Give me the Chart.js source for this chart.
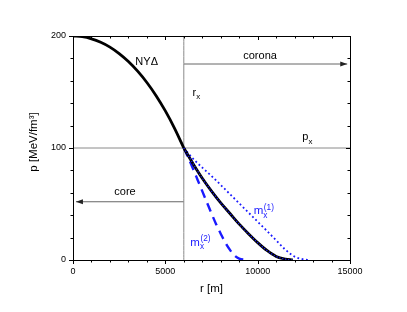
<!DOCTYPE html>
<html>
<head>
<meta charset="utf-8">
<script src="https://cdn.jsdelivr.net/npm/chart.js@4.4.1/dist/chart.umd.min.js"></script>
<style>
  body { margin: 0; background: #fff; }
  canvas { display: block; }
</style>
</head>
<body>
<canvas id="chart" width="407" height="312"></canvas>
<script>
// NYΔ core profile, r in m, p in MeV/fm^3
let core_r = [0, 500, 1000, 1500, 2000, 2500, 3000, 3500, 4000, 4500, 5000, 5500, 6000];
let core_p = [200, 199.4, 197.5, 194.4, 190.1, 184.3, 177.2, 168.6, 158.5, 146.7, 133.1, 117.6, 100];

// corona continuation (black, with blue dots on top)
let corona_r = [6000, 6500, 7000, 7500, 8000, 8500, 9000, 9500, 10000, 10500, 11000, 11500, 11900];
let corona_p = [100, 86, 73, 61.5, 51, 41.5, 32, 23.5, 15.5, 8.5, 3.2, 0.8, 0];

// m_x^(1), blue dotted
let m1_r = [6000, 6500, 7000, 7500, 8000, 8500, 9000, 9500, 10000, 10500, 11000, 11500, 12000, 12500, 12800];
let m1_p = [100, 90.5, 82.5, 75, 67, 58.8, 50.6, 42.4, 34.2, 26, 17.6, 9.2, 3, 0.5, 0];

// m_x^(2), blue dashed
let m2_r = [6000, 6250, 6500, 6750, 7000, 7250, 7500, 7750, 8000, 8250, 8500, 8750, 9000, 9250, 9500];
let m2_p = [100, 91, 81.5, 71.5, 61.5, 51.5, 41.5, 32, 23.5, 15.5, 9, 4, 1.2, 0.3, 0];

// r_x / p_x markers and the core / corona arrows
let rx = 6000;
let px = 100;
let arrow_corona_r = [6000, 14850];
let arrow_corona_p = [175, 175];
let arrow_core_r = [6000, 160];
let arrow_core_p = [52, 52];

let x_ticks = [0, 5000, 10000, 15000];
let y_ticks = [0, 100, 200];

const FONT = "'Liberation Sans', Arial, sans-serif";
const BLUE = '#1a1aff';

function pts(xs, ys) {
    return xs.map((x, i) => ({x: x, y: ys[i]}));
}

let datasets = [
    {
        // blue dots over the black corona curve
        data: pts(corona_r, corona_p),
        borderColor: BLUE,
        borderWidth: 1.3,
        borderDash: [1.2, 1.8],
        order: 0
    },
    {
        data: pts(core_r, core_p),
        borderColor: '#000',
        borderWidth: 2.8,
        order: 1
    },
    {
        data: pts(corona_r, corona_p),
        borderColor: '#000',
        borderWidth: 2.8,
        order: 1
    },
    {
        data: pts(m1_r, m1_p),
        borderColor: BLUE,
        borderWidth: 1.8,
        borderDash: [1.8, 2.6],
        order: 1
    },
    {
        data: pts(m2_r, m2_p),
        borderColor: BLUE,
        borderWidth: 2.4,
        borderDash: [9, 6],
        order: 1
    },
    {
        data: [{x: rx, y: 0}, {x: rx, y: 200}],
        borderColor: '#8a8a8a',
        borderWidth: 1,
        order: 5
    },
    {
        data: [{x: 0, y: px}, {x: 15000, y: px}],
        borderColor: '#8a8a8a',
        borderWidth: 1,
        order: 5
    },
    {
        data: pts(arrow_corona_r, arrow_corona_p),
        borderColor: '#666',
        borderWidth: 1,
        order: 5
    },
    {
        data: pts(arrow_core_r, arrow_core_p),
        borderColor: '#666',
        borderWidth: 1,
        order: 5
    }
];
datasets.forEach(d => {
    d.pointRadius = 0;
    d.fill = false;
    d.cubicInterpolationMode = 'monotone';
});

function text(ctx, s, x, y, size, align) {
    ctx.font = size + 'px ' + FONT;
    ctx.textAlign = align || 'left';
    ctx.textBaseline = 'middle';
    ctx.fillText(s, x, y);
    return ctx.measureText(s).width;
}

// r_x, m_x^(1) ... : main letter, subscript, optional superscript
function subText(ctx, main, sub, sup, x, y, size) {
    let w = text(ctx, main, x, y, size);
    text(ctx, sub, x + w, y + 4, size * 0.72);
    if (sup) text(ctx, sup, x + w + 0.5, y - 4, size * 0.72);
}

function arrowHead(ctx, x, y, dir) {
    ctx.beginPath();
    ctx.moveTo(x, y);
    ctx.lineTo(x - dir * 7, y - 2.5);
    ctx.lineTo(x - dir * 7, y + 2.5);
    ctx.closePath();
    ctx.fill();
}

let decor = {
    id: 'decor',
    afterDraw(chart) {
        let ctx = chart.ctx;
        let xs = chart.scales.x, ys = chart.scales.y;
        let a = chart.chartArea;
        let X = v => xs.getPixelForValue(v);
        let Y = v => ys.getPixelForValue(v);
        ctx.save();

        // frame
        ctx.strokeStyle = '#000';
        ctx.lineWidth = 1;
        ctx.strokeRect(Math.round(a.left) + 0.5, Math.round(a.top) + 0.5,
            Math.round(a.right - a.left), Math.round(a.bottom - a.top));

        // ticks, major + minor
        ctx.beginPath();
        for (let v = 0; v <= 15000; v += 1000) {
            let x = Math.round(X(v)) + 0.5;
            let len = v % 5000 === 0 ? 4 : 2.5;
            ctx.moveTo(x, a.bottom); ctx.lineTo(x, a.bottom + len);
            ctx.moveTo(x, a.top); ctx.lineTo(x, a.top + len);
        }
        for (let v = 0; v <= 200; v += 20) {
            let y = Math.round(Y(v)) + 0.5;
            let len = v % 100 === 0 ? 4 : 2.5;
            ctx.moveTo(a.left, y); ctx.lineTo(a.left - len, y);
            ctx.moveTo(a.right, y); ctx.lineTo(a.right - len, y);
        }
        ctx.stroke();

        // arrow heads
        ctx.fillStyle = '#222';
        arrowHead(ctx, X(arrow_corona_r[1]), Y(arrow_corona_p[1]), 1);
        arrowHead(ctx, X(arrow_core_r[1]), Y(arrow_core_p[1]), -1);

        // labels
        ctx.fillStyle = '#000';
        text(ctx, 'NYΔ', X(3990), Y(177), 11, 'center');
        text(ctx, 'corona', X(10130), Y(182), 11, 'center');
        text(ctx, 'core', X(2816), Y(61), 11, 'center');
        subText(ctx, 'r', 'x', null, X(6470), Y(149.4), 11);
        subText(ctx, 'p', 'x', null, X(12417), Y(109.5), 11);

        ctx.fillStyle = BLUE;
        subText(ctx, 'm', 'x', '(1)', X(9785), Y(43.5), 11.5);
        subText(ctx, 'm', 'x', '(2)', X(6352), Y(15), 11.5);

        // axis titles
        ctx.fillStyle = '#000';
        text(ctx, 'r [m]', (a.left + a.right) / 2, 289, 11.5, 'center');
        ctx.translate(34, (a.top + a.bottom) / 2 - 6);
        ctx.rotate(-Math.PI / 2);
        text(ctx, 'p [MeV/fm³]', 0, 0, 11.5, 'center');
        ctx.restore();
    }
};

new Chart(document.getElementById('chart'), {
    type: 'line',
    data: {datasets: datasets},
    options: {
        responsive: false,
        animation: false,
        layout: {padding: {top: 36, right: 57, left: 0, bottom: 0}},
        plugins: {legend: {display: false}, tooltip: {enabled: false}},
        scales: {
            x: {
                type: 'linear',
                min: 0, max: 15000,
                afterFit(s) { s.height = 52; },
                afterBuildTicks(s) { s.ticks = x_ticks.map(v => ({value: v})); },
                grid: {display: false, drawTicks: false},
                border: {display: false},
                ticks: {
                    padding: 6, color: '#000', maxRotation: 0,
                    font: {size: 9, family: FONT},
                    callback: v => String(v)
                }
            },
            y: {
                type: 'linear',
                min: 0, max: 200,
                afterFit(s) { s.width = 73; },
                afterBuildTicks(s) { s.ticks = y_ticks.map(v => ({value: v})); },
                grid: {display: false, drawTicks: false},
                border: {display: false},
                ticks: {
                    padding: 7, color: '#000',
                    font: {size: 9, family: FONT},
                    callback: v => String(v)
                }
            }
        }
    },
    plugins: [decor]
});
</script>
</body>
</html>
